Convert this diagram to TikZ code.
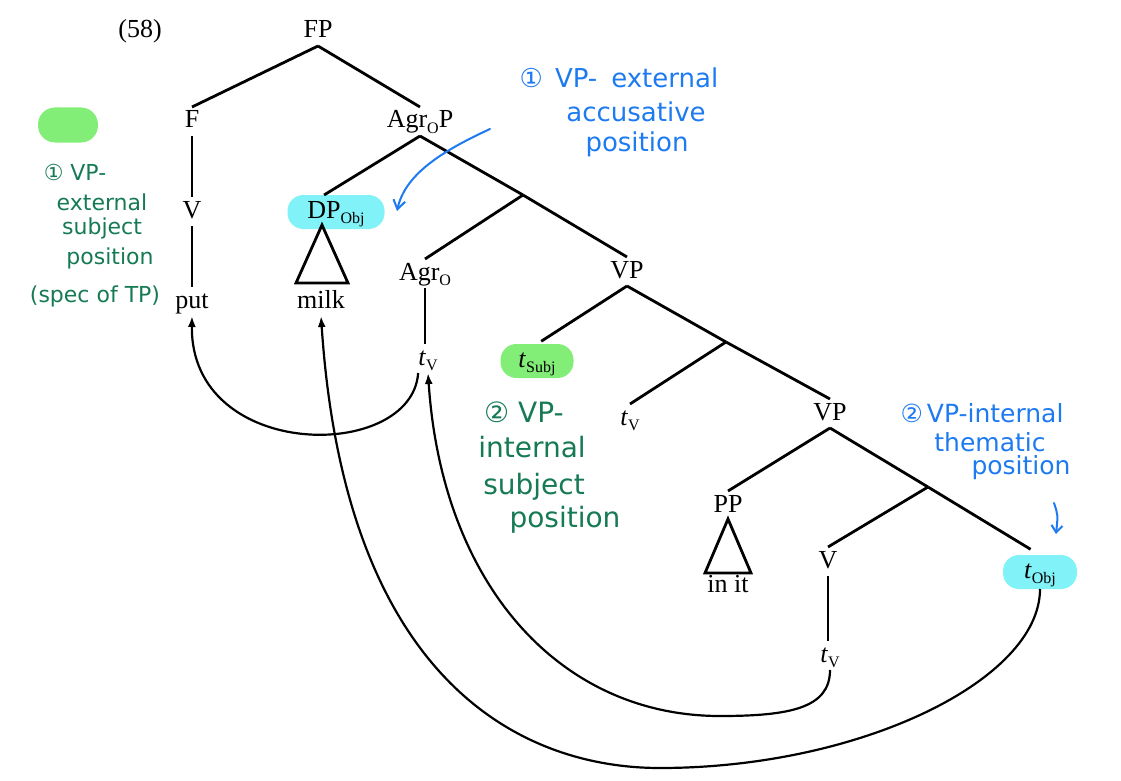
\documentclass[tikz,border=0pt]{standalone}
\usepackage{fontspec}
\setmainfont{Liberation Serif}
\newfontfamily\hand{DejaVu Sans}
\usetikzlibrary{arrows.meta}
\definecolor{hlcyan}{RGB}{128,242,248}
\definecolor{hlgreen}{RGB}{130,238,120}
\definecolor{pengreen}{RGB}{22,122,84}
\definecolor{penblue}{RGB}{30,122,240}
\newcommand\lo[1]{\raisebox{-0.45ex}{\fontsize{16}{16}\selectfont #1}}
\begin{document}
\begin{tikzpicture}[x=1pt,y=-1pt,
  lbl/.style={inner sep=0pt, text height=17pt, text depth=4pt, outer ysep=4pt,
    font=\fontsize{26}{30}\selectfont, anchor=base},
  pill/.style={inner sep=0pt, text height=17pt, text depth=4pt, outer sep=0pt,
    font=\fontsize{26}{30}\selectfont, rounded corners=16pt, minimum height=34pt},
  edge/.style={line width=2.8pt},
  move/.style={line width=2.2pt, -{Latex[length=11pt,width=8pt]}},
  hg/.style={text=pengreen, font=\hand\fontsize{22}{26}\selectfont, inner sep=0pt},
  hg2/.style={text=pengreen, font=\hand\fontsize{28}{32}\selectfont, inner sep=0pt},
  hb/.style={text=penblue, font=\hand\fontsize{25}{29}\selectfont, inner sep=0pt},
  pen/.style={line width=2pt, line cap=round, -{Straight Barb[length=9pt,width=12pt]}}
]
\useasboundingbox (0,0) rectangle (1121,781);

% highlight blob (legend)
\node[fill=hlgreen, rounded corners=17pt, minimum width=60pt, minimum height=35pt, inner sep=0pt] (blob) at (68,125) {};

% tree labels
\node[lbl] (ex) at (140,38) {(58)};
\node[lbl] (FP) at (318,38) {FP};
\node[lbl] (F) at (192,128) {F};
\node[lbl] (AgrOP) at (420,128) {Agr\lo{O}P};
\node[lbl] (V1) at (192,218) {V};
\node[lbl] (put) at (192,308) {put};
\node[pill, fill=hlcyan, minimum width=97pt] (DP) at (336,212) {DP\lo{Obj}};
\node[lbl] (milk) at (321,308) {milk};
\node[lbl] (AgrO) at (425,280) {Agr\lo{O}};
\node[lbl] (tVa) at (428,365) {\textit{t}\lo{V}};
\node[lbl] (VP1) at (627,278) {VP};
\node[pill, fill=hlgreen, minimum width=73pt] (tSubj) at (537,361) {\textit{t}\lo{Subj}};
\node[lbl] (tVb) at (630,425) {\textit{t}\lo{V}};
\node[lbl] (VP2) at (830,420) {VP};
\node[lbl] (PP) at (728,512) {PP};
\node[lbl] (init) at (728,592) {in it};
\node[lbl] (V2) at (828,568) {V};
\node[lbl] (tVc) at (830,662) {\textit{t}\lo{V}};
\node[pill, fill=hlcyan, minimum width=74pt] (tObj) at (1040,572) {\textit{t}\lo{Obj}};

% bar-level junctions
\coordinate (J1) at (523,195);
\coordinate (J2) at (726,342);
\coordinate (J3) at (928,487);

% tree edges
\draw[edge] (FP.south) -- (F.north);
\draw[edge] (FP.south) -- (AgrOP.north);
\draw[edge] (F.south) -- (V1.north);
\draw[edge] (V1.south) -- (put.north);
\draw[edge] (AgrOP.south) -- (DP.125);
\draw[edge] (AgrOP.south) -- (J1);
\draw[edge] (J1) -- (AgrO.north);
\draw[edge] (J1) -- (VP1.north);
\draw[edge] (AgrO.south) -- (AgrO.south |- tVa.north);
\draw[edge, shorten >=5pt] (VP1.south) -- (tSubj.north);
\draw[edge] (VP1.south) -- (J2);
\draw[edge] (J2) -- (tVb.north);
\draw[edge] (J2) -- (VP2.north);
\draw[edge] (VP2.south) -- (PP.north);
\draw[edge] (VP2.south) -- (J3);
\draw[edge] (J3) -- (V2.north);
\draw[edge, shorten >=11pt] (J3) -- (tObj.north);
\draw[edge] (V2.south) -- (V2.south |- tVc.north);

% triangles
\draw[edge, line join=miter] (DP.south) ++(-14,-4) coordinate (DPt) -- ++(-26,58) -- ++(52,0) -- cycle;
\draw[edge, line join=miter] (PP.south) ++(0,-1) coordinate (PPt) -- ++(-23,54) -- ++(46,0) -- cycle;

% movement arrows
\draw[move] (tVa.south west) .. controls (412,462) and (190,462) .. (put.south);
\draw[move] (tVc.south) .. controls (830,708) and (790,716) .. (720,716)
   .. controls (560,716) and (442,585) .. (tVa.south);
\draw[move] (tObj.south) .. controls (1040,680) and (860,768) .. (660,768)
   .. controls (520,768) and (345,680) .. (milk.south);

% green annotations 1
\node[hg] (g1a) at (75,172) {① VP-};
\node[hg] (g1b) at (102,202) {external};
\node[hg] (g1c) at (102,228) {subject};
\node[hg] (g1d) at (110,258) {position};
\node[hg] (g1e) at (95,296) {(spec of TP)};

% blue annotations 1
\node[hb, font=\hand\fontsize{26}{30}\selectfont] (b1a) at (619,78) {①\hspace{12pt}VP-\hspace{14pt}external};
\node[hb, font=\hand\fontsize{26}{30}\selectfont] (b1b) at (636,112) {accusative};
\node[hb, font=\hand\fontsize{26}{30}\selectfont] (b1c) at (637,144) {position};
\coordinate (b1s) at (490,129);
\coordinate (b1e) at (397,211);
\draw[pen, draw=penblue] (b1s) .. controls (440,152) and (405,175) .. (b1e);

% green annotations 2
\node[hg2] (g2a) at (524,412) {② VP-};
\node[hg2] (g2b) at (532,447) {internal};
\node[hg2] (g2c) at (534,487) {subject};
\node[hg2] (g2d) at (565,520) {position};

% blue annotations 2
\node[hb] (b2a) at (982,413) {②\hspace{4pt}VP-internal};
\node[hb] (b2b) at (990,442) {thematic};
\node[hb] (b2c) at (1021,468) {position};
\coordinate (b2s) at (1054,503);
\coordinate (b2e) at (1056,534);
\draw[pen, draw=penblue, -{Straight Barb[length=7pt,width=11pt]}] (b2s) .. controls (1058,515) .. (b2e);
\end{tikzpicture}
\end{document}
